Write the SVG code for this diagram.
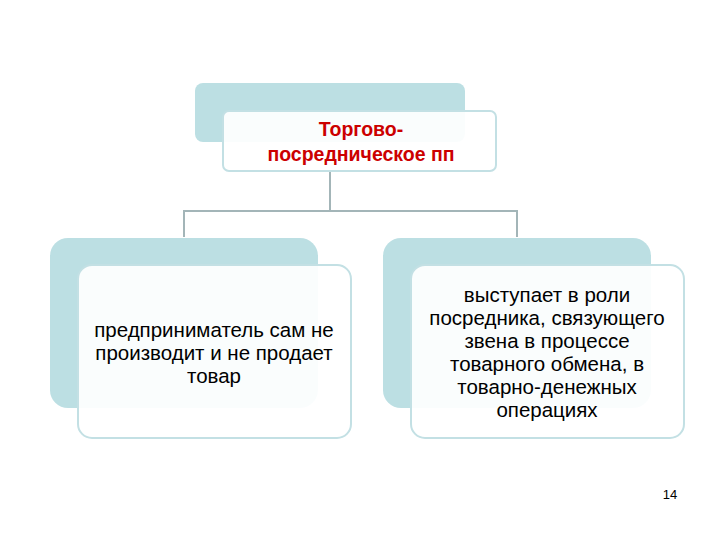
<svg xmlns="http://www.w3.org/2000/svg" width="720" height="540" viewBox="0 0 720 540">
<style>
.bk{fill:#bcdfe3}
.fr{fill:#fff;fill-opacity:0.93;stroke:#c3e0e4;stroke-width:2}
.t{font-family:"Liberation Sans",Arial,sans-serif;font-size:20.5px;fill:#000;text-anchor:middle}
.h{font-family:"Liberation Sans",Arial,sans-serif;font-size:19.5px;font-weight:bold;fill:#cc0000;text-anchor:middle}
.c{fill:none;stroke:#a3b5b8;stroke-width:2}
</style>
<rect width="720" height="540" fill="#fff"/>
<g id="connectors"><path class="c" d="M330 171V211M184 237V211H517V237"/></g>
<g id="top"><rect class="bk" x="195" y="83" width="270" height="59" rx="8"/><rect class="fr" x="223" y="111" width="273" height="60" rx="6"/>
<text class="h" x="361" y="136">Торгово-</text><text class="h" x="361" y="161">посредническое пп</text></g>
<g id="left"><rect class="bk" x="50" y="238" width="268" height="170" rx="18"/><rect class="fr" x="78" y="265" width="273" height="173" rx="14"/>
<text class="t" x="214" y="337">предприниматель сам не</text><text class="t" x="214" y="360">производит и не продает</text><text class="t" x="214" y="383">товар</text></g>
<g id="right"><rect class="bk" x="383" y="238" width="268" height="170" rx="18"/><rect class="fr" x="411" y="265" width="273" height="173" rx="14"/>
<text class="t" x="547" y="302">выступает в роли</text><text class="t" x="547" y="325">посредника, связующего</text><text class="t" x="547" y="348">звена в процессе</text><text class="t" x="547" y="371">товарного обмена, в</text><text class="t" x="547" y="394">товарно-денежных</text><text class="t" x="547" y="417">операциях</text></g>
<text x="670" y="499" font-family="Liberation Sans,Arial,sans-serif" font-size="13" text-anchor="middle">14</text>
</svg>
